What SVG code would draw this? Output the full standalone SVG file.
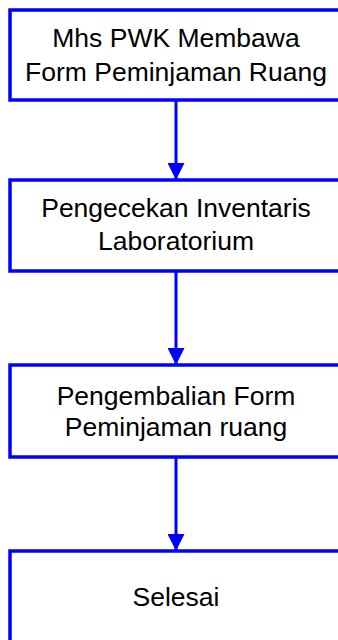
<svg xmlns="http://www.w3.org/2000/svg" width="338" height="640" viewBox="0 0 338 640">
  <style>
    .box { fill: #ffffff; stroke: #0000ff; stroke-width: 3.5; }
    .lbl { font-family: "Liberation Sans", Arial, sans-serif; font-size: 26.5px; fill: #000000; text-anchor: middle; }
    .flow { stroke: #0000ff; stroke-width: 3; fill: none; }
  </style>
  <defs>
    <marker id="head" markerUnits="userSpaceOnUse" markerWidth="18" markerHeight="17" refX="17" refY="8.5" orient="auto">
      <path d="M0,0 L17,8.5 L0,17 Z" fill="#0000ff"/>
    </marker>
  </defs>
  <rect width="338" height="640" fill="#ffffff"/>

  <g id="connectors">
    <line class="flow" x1="176" y1="100" x2="176" y2="180" marker-end="url(#head)"/>
    <line class="flow" x1="176" y1="271" x2="176" y2="365" marker-end="url(#head)"/>
    <line class="flow" x1="176" y1="457" x2="176" y2="551" marker-end="url(#head)"/>
  </g>

  <g id="n1">
    <rect class="box" x="10" y="10" width="332" height="90"/>
    <text class="lbl" x="176" y="47">Mhs PWK Membawa</text>
    <text class="lbl" x="176" y="81">Form Peminjaman Ruang</text>
  </g>

  <g id="n2">
    <rect class="box" x="10" y="180" width="332" height="91"/>
    <text class="lbl" x="176" y="217">Pengecekan Inventaris</text>
    <text class="lbl" x="176" y="250">Laboratorium</text>
  </g>

  <g id="n3">
    <rect class="box" x="10" y="365" width="332" height="92"/>
    <text class="lbl" x="176" y="405">Pengembalian Form</text>
    <text class="lbl" x="176" y="436">Peminjaman ruang</text>
  </g>

  <g id="n4">
    <rect class="box" x="10" y="551" width="332" height="100"/>
    <text class="lbl" x="176" y="606">Selesai</text>
  </g>
</svg>
